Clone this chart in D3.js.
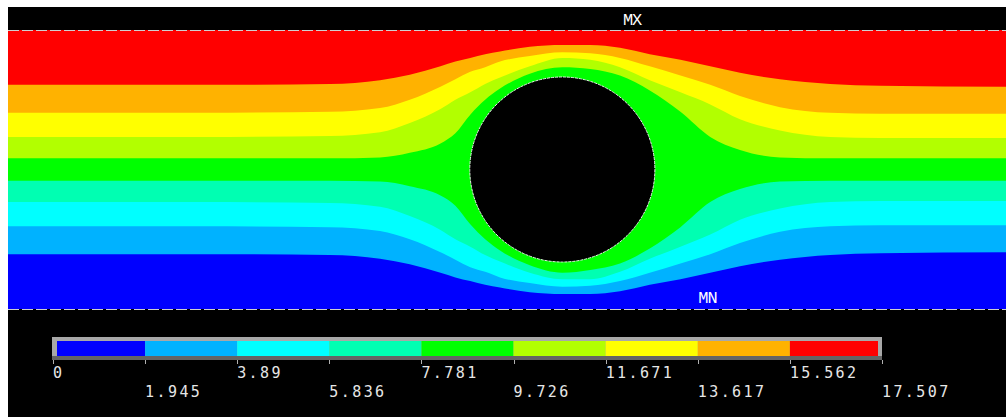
<!DOCTYPE html>
<html>
<head>
<meta charset="utf-8">
<script src="https://cdn.jsdelivr.net/npm/d3@7"></script>
<style>
  html, body { margin: 0; padding: 0; background: #fff; }
  svg { display: block; }
</style>
</head>
<body>
<div id="chart"></div>
<script>
// Stream function contour plot (flow past a cylinder in a channel).
// Model units: channel height 3, length 10.73, cylinder radius ~1.

// ─── Data ─────────────────────────────────────────────────────────────────

// Contour level values shown in the legend
const levels = [0, 1.945, 3.89, 5.836, 7.781, 9.726, 11.671, 13.617, 15.562, 17.507];
const levelLabels = ['0', '1.945', '3.89', '5.836', '7.781', '9.726', '11.671', '13.617', '15.562', '17.507'];
const bandColors = ['#0000ff', '#00b2ff', '#00ffff', '#00ffb2', '#00ff00',
                    '#b2ff00', '#ffff00', '#ffb200', '#ff0000'];

// Sample stations along the channel (model x)
const contourX = [0, 2.06, 3.46, 4.00, 4.32, 4.65, 4.81, 4.97, 5.13, 5.29, 5.61,
                  5.96, 6.26, 6.58, 6.90, 7.23, 7.55, 7.87, 8.30, 8.84, 9.38, 10.73];

// Height (model y) of each contour line at the stations
const contour1 = [0.59, 0.59, 0.58, 0.54, 0.48, 0.39, 0.34, 0.30, 0.26, 0.23, 0.18,
                  0.16, 0.16, 0.19, 0.26, 0.32, 0.39, 0.46, 0.53, 0.58, 0.60, 0.61];
const contour2 = [0.89, 0.89, 0.88, 0.84, 0.75, 0.61, 0.53, 0.45, 0.40, 0.34, 0.28,
                  0.24, 0.25, 0.30, 0.39, 0.49, 0.59, 0.71, 0.83, 0.89, 0.90, 0.90];
const contour3 = [1.15, 1.15, 1.14, 1.10, 1.00, 0.85, 0.75, 0.67, 0.58, 0.51, 0.39,
                  0.32, 0.32, 0.40, 0.54, 0.67, 0.80, 0.96, 1.08, 1.15, 1.16, 1.16];
const contour4 = [1.38, 1.38, 1.38, 1.37, 1.32, 1.22, 1.11, 0.91, 0.75, 0.63, 0.47,
                  0.39, 0.42, 0.49, 0.65, 0.88, 1.15, 1.29, 1.37, 1.38, 1.38, 1.38];
const contour5 = [1.62, 1.62, 1.62, 1.63, 1.68, 1.78, 1.89, 2.09, 2.25, 2.37, 2.53,
                  2.60, 2.58, 2.51, 2.35, 2.12, 1.85, 1.71, 1.63, 1.62, 1.62, 1.62];
const contour6 = [1.85, 1.85, 1.86, 1.90, 2.00, 2.15, 2.25, 2.33, 2.42, 2.49, 2.61,
                  2.70, 2.68, 2.60, 2.46, 2.33, 2.20, 2.04, 1.92, 1.85, 1.84, 1.84];
const contour7 = [2.11, 2.11, 2.12, 2.16, 2.25, 2.39, 2.47, 2.55, 2.60, 2.66, 2.72,
                  2.76, 2.75, 2.70, 2.61, 2.51, 2.41, 2.29, 2.17, 2.11, 2.10, 2.10];
const contour8 = [2.41, 2.41, 2.42, 2.46, 2.52, 2.61, 2.66, 2.70, 2.74, 2.77, 2.82,
                  2.84, 2.84, 2.81, 2.74, 2.68, 2.61, 2.54, 2.47, 2.42, 2.40, 2.39];

const channelLength = 10.73;
const channelHeight = 3;
const cylinder = { cx: 5.96, cy: 1.5, r: 0.995 };

// Extreme-value node markers
const extremes = [
  { label: 'MX', x: 6.71, y: 3 },
  { label: 'MN', x: 7.52, y: 0 },
];

// ─── Layout ───────────────────────────────────────────────────────────────

const W = 1006, H = 417;
const svg = d3.select('#chart').append('svg')
  .attr('width', W)
  .attr('height', H);

// graphics window
svg.append('rect')
  .attr('x', 8).attr('y', 7)
  .attr('width', W - 8).attr('height', H - 7)
  .attr('fill', '#000');

const x = d3.scaleLinear().domain([0, channelLength]).range([8, 1006]);
const y = d3.scaleLinear().domain([0, channelHeight]).range([309, 30]);

svg.append('clipPath').attr('id', 'field-clip')
  .append('rect')
  .attr('x', x(0)).attr('y', y(channelHeight))
  .attr('width', x(channelLength) - x(0))
  .attr('height', y(0) - y(channelHeight));

const gField = svg.append('g').attr('clip-path', 'url(#field-clip)');

// ─── Bands ────────────────────────────────────────────────────────────────

// lowest band fills the whole channel, each higher band is painted above its contour
gField.append('rect')
  .attr('x', x(0)).attr('y', y(channelHeight))
  .attr('width', x(channelLength) - x(0))
  .attr('height', y(0) - y(channelHeight))
  .attr('fill', bandColors[0]);

const contours = [contour1, contour2, contour3, contour4, contour5, contour6, contour7, contour8];

const bandArea = d3.area()
  .x(d => x(d[0]))
  .y0(y(channelHeight))
  .y1(d => y(d[1]))
  .curve(d3.curveMonotoneX);

gField.selectAll('.band')
  .data(contours)
  .join('path')
  .attr('class', 'band')
  .attr('d', c => bandArea(c.map((v, i) => [contourX[i], v])))
  .attr('fill', (c, i) => bandColors[i + 1]);

// cylinder (no flow region)
gField.append('ellipse')
  .attr('cx', x(cylinder.cx))
  .attr('cy', y(cylinder.cy))
  .attr('rx', x(cylinder.r) - x(0))
  .attr('ry', y(0) - y(cylinder.r))
  .attr('fill', '#000')
  .attr('stroke', '#e8e8e8')
  .attr('stroke-width', 1)
  .attr('stroke-dasharray', '3,1');

// channel walls (boundary condition markers)
svg.selectAll('.wall')
  .data([0, channelHeight])
  .join('line')
  .attr('class', 'wall')
  .attr('x1', x(0)).attr('x2', x(channelLength))
  .attr('y1', d => y(d) + 0.5).attr('y2', d => y(d) + 0.5)
  .attr('stroke', '#d0d0d0')
  .attr('stroke-width', 1)
  .attr('stroke-dasharray', '11,3');

// MX / MN labels
svg.selectAll('.extreme')
  .data(extremes)
  .join('text')
  .attr('class', 'extreme')
  .attr('x', d => x(d.x))
  .attr('y', d => d.y === channelHeight ? y(d.y) - 5 : y(d.y) - 6)
  .attr('text-anchor', 'middle')
  .attr('fill', '#ffffff')
  .attr('font-family', '"Liberation Mono", monospace')
  .attr('font-size', 17)
  .attr('letter-spacing', -1)
  .text(d => d.label);

// ─── Legend ───────────────────────────────────────────────────────────────

const lx = d3.scaleLinear().domain([levels[0], levels[levels.length - 1]]).range([53, 882]);
const gLegend = svg.append('g').attr('class', 'legend');

gLegend.append('rect')
  .attr('x', 52).attr('y', 337)
  .attr('width', 830).attr('height', 23)
  .attr('fill', '#a8a8a8');
gLegend.append('rect')
  .attr('x', 52).attr('y', 356)
  .attr('width', 830).attr('height', 4)
  .attr('fill', '#646464');

gLegend.selectAll('.swatch')
  .data(bandColors)
  .join('rect')
  .attr('class', 'swatch')
  .attr('x', (c, i) => Math.max(57, lx(levels[i])))
  .attr('width', (c, i) => Math.min(878, lx(levels[i + 1])) - Math.max(57, lx(levels[i])))
  .attr('y', 341)
  .attr('height', 15)
  .attr('fill', c => c);

gLegend.selectAll('.tick')
  .data(levels)
  .join('line')
  .attr('class', 'tick')
  .attr('x1', d => Math.round(lx(d)) + 0.5).attr('x2', d => Math.round(lx(d)) + 0.5)
  .attr('y1', 360).attr('y2', 364)
  .attr('stroke', '#b0b0b0');

gLegend.selectAll('.tick-label')
  .data(levels)
  .join('text')
  .attr('class', 'tick-label')
  .attr('x', d => lx(d))
  .attr('y', (d, i) => i % 2 === 0 ? 378 : 397)
  .attr('fill', '#e6e6e6')
  .attr('font-family', '"DejaVu Sans Mono", monospace')
  .attr('font-size', 15)
  .attr('letter-spacing', 2.4)
  .text((d, i) => levelLabels[i]);
</script>
</body>
</html>
